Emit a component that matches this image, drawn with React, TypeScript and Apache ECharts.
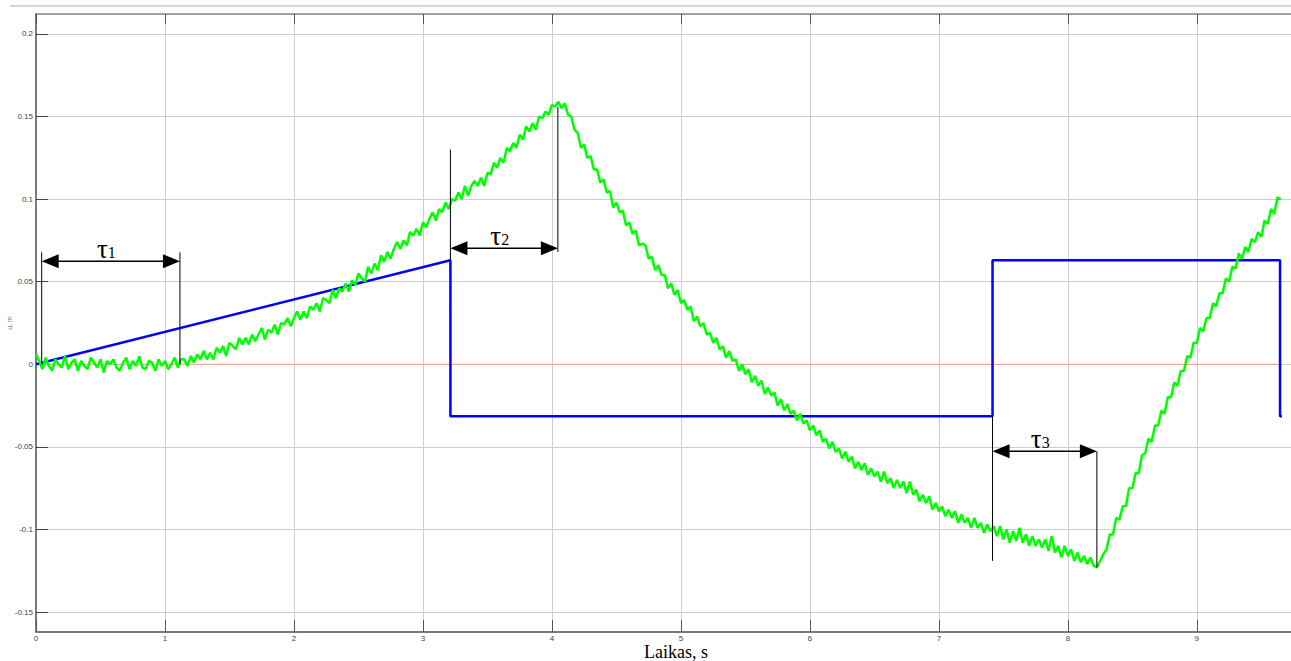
import React, { useEffect, useRef } from "react";
import * as echarts from "echarts";

// ---- data ----
const GREEN_DT = 0.025; // sampling step of the measured signal, s
const GREEN_VALUES = [
  // 0.000 – 1.125
  0.006, 0.002, -0.003, 0.004, -0.001, -0.004, 0.003, 0.0, -0.002, 0.005,
  -0.003, 0.001, 0.003, -0.004, 0.002, -0.001, -0.003, 0.004, 0.001, -0.002,
  0.003, -0.005, 0.002, 0.0, 0.003, -0.002, -0.004, 0.001, 0.004, -0.003,
  0.002, -0.001, 0.005, -0.002, -0.003, 0.002, 0.001, -0.004, 0.003, -0.001,
  0.002, -0.003, 0.0, 0.004, -0.002, 0.003,
  // 1.150 – 2.000
  0.003, -0.001, 0.005, 0.001, 0.006, 0.003, 0.008, 0.003, 0.007, 0.003,
  0.01, 0.007, 0.011, 0.005, 0.013, 0.011, 0.009, 0.016, 0.012, 0.016,
  0.012, 0.018, 0.014, 0.018, 0.022, 0.015, 0.021, 0.019, 0.024, 0.018,
  0.025, 0.024, 0.028, 0.023, 0.028,
  // 2.025 – 3.000
  0.032, 0.027, 0.032, 0.028, 0.035, 0.033, 0.037, 0.032, 0.04, 0.039,
  0.037, 0.045, 0.04, 0.046, 0.044, 0.049, 0.044, 0.051, 0.048, 0.055,
  0.052, 0.05, 0.059, 0.055, 0.061, 0.057, 0.066, 0.062, 0.068, 0.064,
  0.07, 0.074, 0.07, 0.075, 0.072, 0.08, 0.078, 0.082, 0.078, 0.086,
  // 3.025 – 4.000
  0.083, 0.088, 0.092, 0.087, 0.094, 0.092, 0.098, 0.094, 0.1, 0.099,
  0.104, 0.1, 0.108, 0.102, 0.108, 0.111, 0.108, 0.113, 0.108, 0.116,
  0.115, 0.122, 0.119, 0.125, 0.122, 0.131, 0.129, 0.134, 0.131, 0.139,
  0.136, 0.144, 0.141, 0.146, 0.142, 0.15, 0.149, 0.153, 0.151, 0.157,
  // 4.025 – 5.000
  0.156, 0.159, 0.155, 0.158, 0.151, 0.15, 0.142, 0.14, 0.131, 0.133,
  0.125, 0.126, 0.118, 0.118, 0.11, 0.112, 0.104, 0.105, 0.095, 0.098,
  0.092, 0.093, 0.084, 0.086, 0.079, 0.081, 0.072, 0.073, 0.072, 0.064,
  0.065, 0.057, 0.06, 0.054, 0.054, 0.046, 0.049, 0.042, 0.045, 0.037,
  // 5.025 – 6.000
  0.039, 0.033, 0.035, 0.026, 0.029, 0.023, 0.025, 0.018, 0.019, 0.013,
  0.016, 0.009, 0.011, 0.004, 0.008, 0.002, 0.003, -0.004, 0.0, -0.006,
  -0.003, -0.011, -0.007, -0.013, -0.01, -0.018, -0.014, -0.019, -0.017, -0.025,
  -0.021, -0.028, -0.024, -0.03, -0.028, -0.034, -0.03, -0.036, -0.034, -0.04,
  // 6.025 – 7.000
  -0.037, -0.043, -0.04, -0.047, -0.045, -0.051, -0.047, -0.053, -0.051, -0.057,
  -0.053, -0.059, -0.056, -0.063, -0.059, -0.064, -0.06, -0.067, -0.063, -0.068,
  -0.065, -0.071, -0.065, -0.072, -0.069, -0.075, -0.07, -0.075, -0.071, -0.078,
  -0.071, -0.079, -0.076, -0.083, -0.079, -0.084, -0.08, -0.088, -0.084, -0.089,
  // 7.025 – 8.000
  -0.086, -0.092, -0.088, -0.093, -0.089, -0.096, -0.091, -0.096, -0.093, -0.099,
  -0.093, -0.099, -0.096, -0.102, -0.097, -0.101, -0.098, -0.104, -0.098, -0.106,
  -0.1, -0.108, -0.101, -0.107, -0.099, -0.108, -0.103, -0.11, -0.104, -0.11,
  -0.106, -0.111, -0.106, -0.113, -0.104, -0.114, -0.11, -0.117, -0.11, -0.116,
  // 8.025 – 9.000
  -0.112, -0.119, -0.114, -0.12, -0.116, -0.121, -0.117, -0.122, -0.123, -0.119,
  -0.115, -0.112, -0.103, -0.103, -0.093, -0.094, -0.086, -0.086, -0.075, -0.075,
  -0.066, -0.066, -0.055, -0.054, -0.045, -0.047, -0.037, -0.037, -0.028, -0.03,
  -0.02, -0.02, -0.011, -0.013, -0.004, -0.004, 0.005, 0.004, 0.013, 0.013,
  // 9.025 – 9.650
  0.022, 0.02, 0.028, 0.028, 0.037, 0.035, 0.043, 0.043, 0.052, 0.05,
  0.059, 0.058, 0.067, 0.064, 0.071, 0.068, 0.076, 0.074, 0.08, 0.077,
  0.087, 0.085, 0.094, 0.091, 0.101, 0.1,
];

const BLUE_T = [0, 3.213, 3.213, 7.416, 7.416, 9.645, 9.645, 9.66];
const BLUE_V = [0, 0.063, -0.0315, -0.0315, 0.063, 0.063, -0.0315, -0.0315];

const ZERO_T = [0, 9.66];
const ZERO_V = [0, 0];

const TAU_LABELS = ["1", "2", "3"];
const TAU_START = [0.044, 3.213, 7.416];
const TAU_END = [1.116, 4.046, 8.225];
const TAU_ARROW_Y = [0.0624, 0.0703, -0.0527];
const TAU_START_TOP = [0.0678, 0.13, -0.0315];
const TAU_START_BOTTOM = [0, 0.063, -0.119];
const TAU_END_TOP = [0.0678, 0.156, -0.0527];
const TAU_END_BOTTOM = [0, 0.068, -0.123];

const X_MIN = 0;
const X_MAX = 9.73;
const Y_MIN = -0.1621;
const Y_MAX = 0.2121;

const SERIF = '"Liberation Serif", "Times New Roman", serif';
const SANS = '"Liberation Sans", Arial, sans-serif';

export default function App() {
  const ref = useRef<HTMLDivElement>(null);

  useEffect(() => {
    if (!ref.current) return;
    const chart = echarts.init(ref.current, undefined, { renderer: "svg" });

    const green = GREEN_VALUES.map((v, i) => [i * GREEN_DT, v]);
    const blue = BLUE_T.map((t, i) => [t, BLUE_V[i]]);
    const zero = ZERO_T.map((t, i) => [t, ZERO_V[i]]);
    const taus = TAU_LABELS.map((l, i) => [
      TAU_START[i],
      TAU_END[i],
      TAU_ARROW_Y[i],
      TAU_START_TOP[i],
      TAU_START_BOTTOM[i],
      TAU_END_TOP[i],
      TAU_END_BOTTOM[i],
      i,
    ]);

    const gridLine = { show: true, lineStyle: { color: "#cdcdcd", width: 1 } };

    chart.setOption({
      animation: false,
      grid: { left: 36, right: 0, top: 14, bottom: 29, containLabel: false },
      xAxis: [
        {
          type: "value",
          min: X_MIN,
          max: X_MAX,
          interval: 1,
          position: "bottom",
          axisLine: { show: true, onZero: false, lineStyle: { color: "#7a7a7a", width: 2 } },
          axisTick: { show: true, inside: true, length: 12, lineStyle: { color: "#555", width: 1 } },
          axisLabel: {
            fontSize: 8,
            lineHeight: 8,
            color: "#444",
            margin: 2,
            fontFamily: SANS,
            showMaxLabel: false,
          },
          splitLine: gridLine,
        },
        {
          type: "value",
          min: X_MIN,
          max: X_MAX,
          interval: 1,
          position: "top",
          axisLine: { show: true, onZero: false, lineStyle: { color: "#8a8a8a", width: 1.5 } },
          axisTick: { show: true, inside: true, length: 10, lineStyle: { color: "#555", width: 1 } },
          axisLabel: { show: false },
          splitLine: { show: false },
        },
      ],
      yAxis: {
        type: "value",
        min: Y_MIN,
        max: Y_MAX,
        splitNumber: 7,
        minInterval: 0.05,
        maxInterval: 0.05,
        axisLine: { show: true, onZero: false, lineStyle: { color: "#7a7a7a", width: 2 } },
        axisTick: { show: true, inside: true, length: 12, lineStyle: { color: "#444", width: 1 } },
        axisLabel: {
          fontSize: 8,
          color: "#444",
          margin: 3,
          fontFamily: SANS,
          showMinLabel: false,
          showMaxLabel: false,
          formatter: (v: number) => String(parseFloat(v.toFixed(4))),
        },
        splitLine: gridLine,
      },
      series: [
        {
          type: "line",
          data: zero,
          symbol: "none",
          lineStyle: { color: "#f0a58c", width: 1 },
          z: 2,
        },
        {
          type: "line",
          data: blue,
          symbol: "none",
          lineStyle: { color: "#0000ff", width: 2.5 },
          z: 3,
        },
        {
          type: "line",
          data: green,
          symbol: "none",
          lineStyle: { color: "#00ff00", width: 2.5 },
          z: 4,
        },
        {
          type: "custom",
          data: taus,
          z: 5,
          clip: false,
          renderItem: (params: any, api: any) => {
            const t1 = api.value(0);
            const t2 = api.value(1);
            const ya = api.value(2);
            const idx = api.value(7);
            const pA1 = api.coord([t1, ya]);
            const pA2 = api.coord([t2, ya]);
            const s1 = api.coord([t1, api.value(3)]);
            const s2 = api.coord([t1, api.value(4)]);
            const e1 = api.coord([t2, api.value(5)]);
            const e2 = api.coord([t2, api.value(6)]);
            const hl = 17;
            const hh = 7;
            const y = pA1[1];
            const mid = (pA1[0] + pA2[0]) / 2;
            const lineStyle = { stroke: "#000", lineWidth: 1 };
            return {
              type: "group",
              children: [
                { type: "line", shape: { x1: s1[0], y1: s1[1], x2: s2[0], y2: s2[1] }, style: lineStyle },
                { type: "line", shape: { x1: e1[0], y1: e1[1], x2: e2[0], y2: e2[1] }, style: lineStyle },
                { type: "line", shape: { x1: pA1[0] + hl - 2, y1: y, x2: pA2[0] - hl + 2, y2: y }, style: { stroke: "#000", lineWidth: 1.5 } },
                {
                  type: "polygon",
                  shape: { points: [[pA1[0], y], [pA1[0] + hl, y - hh], [pA1[0] + hl, y + hh]] },
                  style: { fill: "#000" },
                },
                {
                  type: "polygon",
                  shape: { points: [[pA2[0], y], [pA2[0] - hl, y - hh], [pA2[0] - hl, y + hh]] },
                  style: { fill: "#000" },
                },
                {
                  type: "text",
                  style: {
                    text: "τ",
                    x: mid - 3,
                    y: y + 1,
                    align: "right",
                    verticalAlign: "bottom",
                    font: `27px ${SERIF}`,
                    fill: "#000",
                  },
                },
                {
                  type: "text",
                  style: {
                    text: TAU_LABELS[idx],
                    x: mid - 3,
                    y: y - 1,
                    align: "left",
                    verticalAlign: "bottom",
                    font: `16px ${SERIF}`,
                    fill: "#000",
                  },
                },
              ],
            };
          },
        },
      ],
      graphic: [
        {
          type: "line",
          shape: { x1: 10, y1: 6, x2: 1291, y2: 6 },
          style: { stroke: "#d6d6d6", lineWidth: 2 },
          silent: true,
        },
        {
          type: "text",
          x: 676,
          y: 652,
          style: {
            text: "Laikas, s",
            font: `18px ${SERIF}`,
            fill: "#000",
            align: "center",
            verticalAlign: "middle",
          },
        },
        {
          type: "text",
          x: 9,
          y: 323,
          rotation: Math.PI / 2,
          style: {
            text: "u, m",
            font: `7px ${SANS}`,
            fill: "#777",
            align: "center",
            verticalAlign: "middle",
          },
        },
      ],
    });

    return () => chart.dispose();
  }, []);

  return (
    <div
      ref={ref}
      style={{ position: "fixed", left: 0, top: 0, width: 1291, height: 661, background: "#fff" }}
    />
  );
}
